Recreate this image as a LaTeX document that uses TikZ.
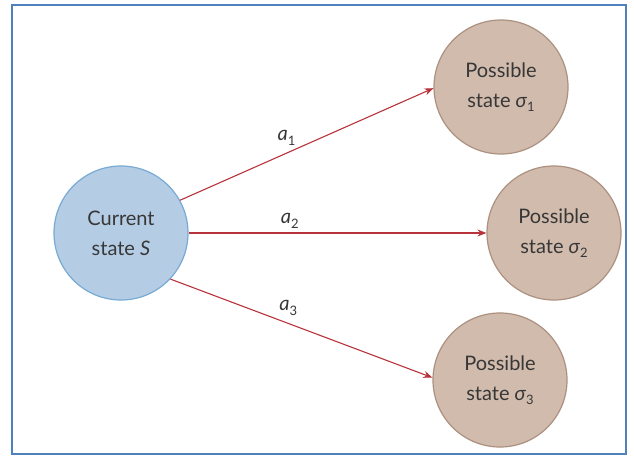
\documentclass[tikz,border=0pt]{standalone}
\usepackage{fontspec}
\setmainfont{Lato}
\usetikzlibrary{arrows.meta}
\definecolor{frameblue}{RGB}{79,129,189}
\definecolor{curfill}{RGB}{180,205,228}
\definecolor{curdraw}{RGB}{120,170,212}
\definecolor{posfill}{RGB}{209,187,173}
\definecolor{posdraw}{RGB}{172,145,128}
\definecolor{arrowred}{RGB}{183,50,58}
\definecolor{textgray}{RGB}{55,55,55}
\newcommand{\subidx}[1]{\raisebox{-0.45ex}{\fontsize{13}{13}\selectfont #1}}
\begin{document}
\begin{tikzpicture}[x=1pt,y=-1pt,
  statebase/.style={circle, minimum size=134pt, inner sep=0pt, line width=1.2pt,
    align=center, text=textgray, font=\fontsize{20}{30}\selectfont},
  current/.style={statebase, fill=curfill, draw=curdraw},
  possible/.style={statebase, fill=posfill, draw=posdraw},
  move/.style={draw=arrowred, line width=1.1pt, -{Stealth[length=9pt,width=7pt]}},
  actlabel/.style={text=textgray, font=\fontsize{20}{20}\selectfont}]
\useasboundingbox (0,0) rectangle (634,457);
\draw[frameblue, line width=2pt] (12,5) rectangle (626,454);
\node[current]  (cur) at (121,233) {Current\\state \textit{S}};
\node[possible] (p1)  at (501,87)  {Possible\\state \textit{σ}\subidx{1}};
\node[possible] (p2)  at (554,233) {Possible\\state \textit{σ}\subidx{2}};
\node[possible] (p3)  at (500,380) {Possible\\state \textit{σ}\subidx{3}};
\draw[move] (cur.29)  -- node[actlabel, pos=0.42, above=4pt] {\textit{a}\subidx{1}} (p1.181);
\draw[move] (cur.0)   -- node[actlabel, pos=0.34, above=1pt] {\textit{a}\subidx{2}} (p2.180);
\draw[move] (cur.-43) -- node[actlabel, pos=0.45, above=4pt] {\textit{a}\subidx{3}} (p3.178);
\end{tikzpicture}
\end{document}
